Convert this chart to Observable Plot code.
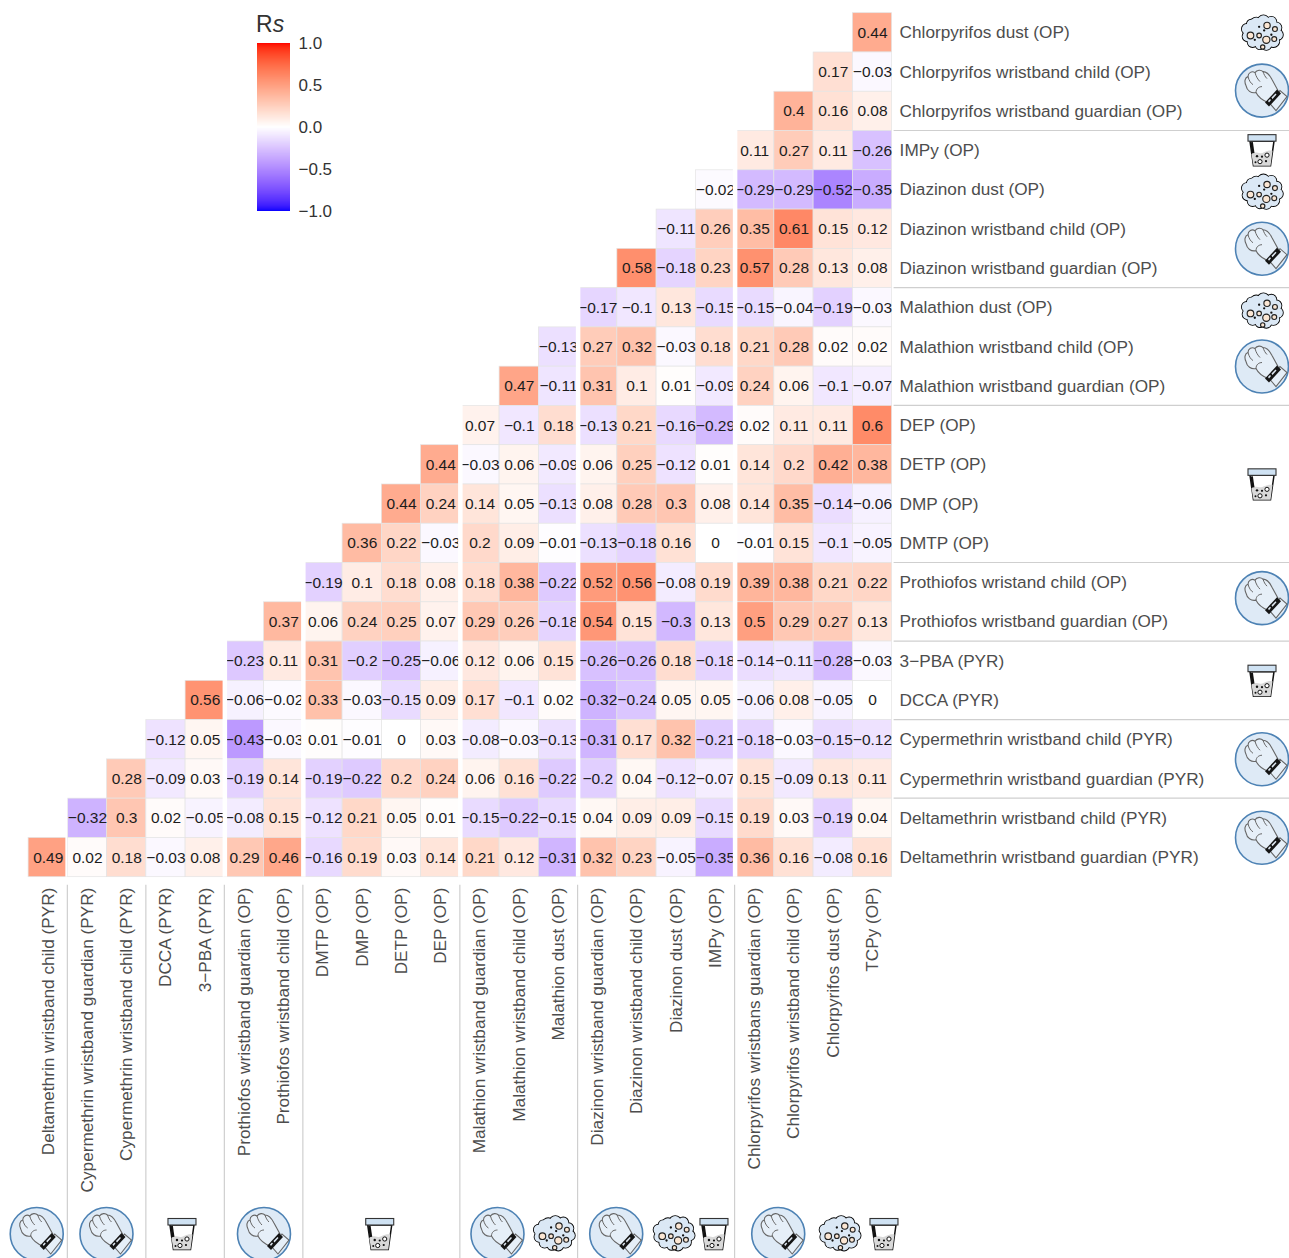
<!DOCTYPE html>
<html><head><meta charset="utf-8">
<script src="https://cdn.jsdelivr.net/npm/d3@7"></script>
<script src="https://cdn.jsdelivr.net/npm/@observablehq/plot@0.6"></script>
<style>
html,body{margin:0;padding:0;background:#fff;overflow:hidden}
#wrap{position:relative;width:1289px;height:1258px;font-family:"Liberation Sans",Arial,sans-serif}
#wrap svg{display:block;background:transparent}
#legend{position:absolute;left:257px;top:35px}
#rs{position:absolute;left:256px;top:10px;font-size:23px;color:#333;line-height:28px;font-family:"Liberation Sans",Arial,sans-serif}
#rs i{font-style:italic}
</style></head>
<body>
<div id="wrap"><div id="main"></div><div id="legend"></div><div id="rs">R<i>s</i></div></div>
<script>
const rowLabels = ["Chlorpyrifos dust (OP)","Chlorpyrifos wristband child (OP)","Chlorpyrifos wristband guardian (OP)","IMPy (OP)","Diazinon dust (OP)","Diazinon wristband child (OP)","Diazinon wristband guardian (OP)","Malathion dust (OP)","Malathion wristband child (OP)","Malathion wristband guardian (OP)","DEP (OP)","DETP (OP)","DMP (OP)","DMTP (OP)","Prothiofos wristand child (OP)","Prothiofos wristband guardian (OP)","3\u2212PBA (PYR)","DCCA (PYR)","Cypermethrin wristband child (PYR)","Cypermethrin wristband guardian (PYR)","Deltamethrin wristband child (PYR)","Deltamethrin wristband guardian (PYR)"];
const colLabels = ["Deltamethrin wristband child (PYR)","Cypermethrin wristband guardian (PYR)","Cypermethrin wristband child (PYR)","DCCA (PYR)","3\u2212PBA (PYR)","Prothiofos wristband guardian (OP)","Prothiofos wristband child (OP)","DMTP (OP)","DMP (OP)","DETP (OP)","DEP (OP)","Malathion wristband guardian (OP)","Malathion wristband child (OP)","Malathion dust (OP)","Diazinon wristband guardian (OP)","Diazinon wristband child (OP)","Diazinon dust (OP)","IMPy (OP)","Chlorpyrifos wristbans guardian (OP)","Chlorpyrifos wristband child (OP)","Chlorpyrifos dust (OP)","TCPy (OP)"];
// each row lists its cells left to right and ends at the last column
const rowValues = [
[0.44],
[0.17,-0.03],
[0.4,0.16,0.08],
[0.11,0.27,0.11,-0.26],
[-0.02,-0.29,-0.29,-0.52,-0.35],
[-0.11,0.26,0.35,0.61,0.15,0.12],
[0.58,-0.18,0.23,0.57,0.28,0.13,0.08],
[-0.17,-0.1,0.13,-0.15,-0.15,-0.04,-0.19,-0.03],
[-0.13,0.27,0.32,-0.03,0.18,0.21,0.28,0.02,0.02],
[0.47,-0.11,0.31,0.1,0.01,-0.09,0.24,0.06,-0.1,-0.07],
[0.07,-0.1,0.18,-0.13,0.21,-0.16,-0.29,0.02,0.11,0.11,0.6],
[0.44,-0.03,0.06,-0.09,0.06,0.25,-0.12,0.01,0.14,0.2,0.42,0.38],
[0.44,0.24,0.14,0.05,-0.13,0.08,0.28,0.3,0.08,0.14,0.35,-0.14,-0.06],
[0.36,0.22,-0.03,0.2,0.09,-0.01,-0.13,-0.18,0.16,0,-0.01,0.15,-0.1,-0.05],
[-0.19,0.1,0.18,0.08,0.18,0.38,-0.22,0.52,0.56,-0.08,0.19,0.39,0.38,0.21,0.22],
[0.37,0.06,0.24,0.25,0.07,0.29,0.26,-0.18,0.54,0.15,-0.3,0.13,0.5,0.29,0.27,0.13],
[-0.23,0.11,0.31,-0.2,-0.25,-0.06,0.12,0.06,0.15,-0.26,-0.26,0.18,-0.18,-0.14,-0.11,-0.28,-0.03],
[0.56,-0.06,-0.02,0.33,-0.03,-0.15,0.09,0.17,-0.1,0.02,-0.32,-0.24,0.05,0.05,-0.06,0.08,-0.05,0],
[-0.12,0.05,-0.43,-0.03,0.01,-0.01,0,0.03,-0.08,-0.03,-0.13,-0.31,0.17,0.32,-0.21,-0.18,-0.03,-0.15,-0.12],
[0.28,-0.09,0.03,-0.19,0.14,-0.19,-0.22,0.2,0.24,0.06,0.16,-0.22,-0.2,0.04,-0.12,-0.07,0.15,-0.09,0.13,0.11],
[-0.32,0.3,0.02,-0.05,-0.08,0.15,-0.12,0.21,0.05,0.01,-0.15,-0.22,-0.15,0.04,0.09,0.09,-0.15,0.19,0.03,-0.19,0.04],
[0.49,0.02,0.18,-0.03,0.08,0.29,0.46,-0.16,0.19,0.03,0.14,0.21,0.12,-0.31,0.32,0.23,-0.05,-0.35,0.36,0.16,-0.08,0.16]
];
const panelGapAfter = [4,6,10,13,17];
const thinGapAfter = [0];
const colRuleAfter = [0,2,4,6,10,13,17];
const rowRuleAfter = [2,6,9,13,15,17,19];
const iconsRight = [["0","dust",1],["1","wrist",19],["3","urine",0],["4","dust",3],["5","wrist",20],["7","dust",4],["8","wrist",20],["11","urine",20],["14","wrist",16],["16","urine",20],["18","wrist",20],["20","wrist",20]];
const iconsBottom = [["0","wrist",-11],["1","wrist",19.5],["3","urine",16.5],["5","wrist",20],["8","urine",18],["11","wrist",18],["13","dust",-4],["14","wrist",19],["16","dust",-2],["17","urine",-1],["18","wrist",24],["20","dust",7],["21","urine",12]];

const cells = rowValues.flatMap((vals, r) => vals.map((v, k) => ({
  row: rowLabels[r], col: colLabels[colLabels.length - vals.length + k], v
})));
const fmt = v => String(v).replace("-", "\u2212");

const dustBlobs = [[22,14,8],[32,11,8],[43,12,7],[50,20,7],[52,30,7],[46,39,8],[36,44,7],[27,44,6],[17,40,7],[10,32,7],[9,22,7],[15,15,6],[30,28,18],[38,28,12],[22,28,12]];
const dustSpots = [[37,17,4.4],[48,22,3.4],[14,31,4.6],[26,31,3.2],[36,37,5],[47,36,3.4],[31,47,3]];
const dustDots = [[43,30],[20,37],[33,24],[26,19]];
const ICONS = {
  wrist: `<circle cx="30" cy="30" r="26.5" fill="#deeaf6" stroke="#4d82b4" stroke-width="1.6"/>
   <path d="M14 25C12 21 13 17 16 16C16 12 20 10 23 12C25 9 29 9 31 11C35 11 38 15 40 19L46 30L36 42C31 40 26 36 24 32C19 33 15 30 14 25Z" fill="#e6eff8" stroke="#666" stroke-width="1.1"/>
   <path d="M16 16C17 20 19 23 21 24M23 12C24 16 26 19 28 21M31 11C32 14 33 16 35 18M24 32C24 28 27 26 30 26" fill="none" stroke="#666" stroke-width="1"/>
   <path d="M38 43L48 30L55 36L44 50Z" fill="#e6eff8" stroke="#666" stroke-width="1.1"/>
   <path d="M33 42L45 29L49 33L37 46Z" fill="#151515"/><path d="M39.5 37L43.5 33L44.5 34L40.5 38.5ZM36 40.5L38 38.5L39 39.5L37 42Z" fill="#dfe8f2"/>`,
  dust: `<g transform="translate(30,30) scale(.72) translate(-30,-28)">`
    + dustBlobs.map(([x,y,r]) => `<circle cx="${x}" cy="${y}" r="${r}" fill="#000" stroke="#000" stroke-width="2.4"/>`).join("")
    + dustBlobs.map(([x,y,r]) => `<circle cx="${x}" cy="${y}" r="${r}" fill="#dbe8f5"/>`).join("")
    + dustSpots.map(([x,y,r]) => `<circle cx="${x}" cy="${y}" r="${r}" fill="#fbe6d3" stroke="#222" stroke-width="1.6"/>`).join("")
    + dustDots.map(([x,y]) => `<circle cx="${x}" cy="${y}" r="1.6" fill="#111"/>`).join("") + `</g>`,
  urine: `<path d="M18 21H42L38.5 45.5H21.5Z" fill="#fff" stroke="#111" stroke-width="1.5"/>
   <path d="M19.5 34C24 30 27 35 32 32C35 30.5 38 30 40.5 30.5L38.5 45.5H21.5Z" fill="#d9d9d9"/>
   <path d="M19.6 22L21.2 33" stroke="#111" stroke-width="2.6"/>
   <rect x="16" y="14.5" width="28" height="6.5" fill="#cfe2f3" stroke="#333" stroke-width="1.1"/>
   <circle cx="35" cy="35" r="2.1" fill="#fff" stroke="#111" stroke-width="1"/><circle cx="28" cy="41.5" r="2.1" fill="#fff" stroke="#111" stroke-width="1"/><circle cx="25" cy="36" r="1.2" fill="#111"/><circle cx="30" cy="36.5" r="1.1" fill="#111"/><circle cx="34" cy="41" r="1.1" fill="#111"/><circle cx="23.5" cy="42" r="1" fill="#111"/>`
};

const frame = {left: 28.1, right: 891.6, top: 12.7, bottom: 876.7};
const W = 1289, H = 1258;
const stepX = (frame.right - frame.left) / colLabels.length;
const colorScale = {type: "linear", domain: [-1, 0, 1], range: ["#0000ff", "#ffffff", "#ff0000"], interpolate: d3.interpolateLab};

const chart = Plot.plot({
  width: W, height: H,
  marginLeft: frame.left, marginRight: W - frame.right, marginTop: frame.top, marginBottom: H - frame.bottom,
  style: {fontFamily: '"Liberation Sans",Arial,sans-serif', background: "transparent"},
  x: {type: "band", domain: colLabels, padding: 0, round: false, label: null},
  y: {type: "band", domain: rowLabels, padding: 0, round: false, label: null},
  color: colorScale,
  marks: [
    Plot.axisY({anchor: "right", tickSize: 0, tickPadding: 7.5, fontSize: 17.2, label: null, stroke: "none", fill: "#4d4d4d"}),
    Plot.axisX({anchor: "bottom", tickRotate: -90, tickSize: 0, tickPadding: 10.5, fontSize: 17.2, label: null, stroke: "none", fill: "#4d4d4d"}),
    Plot.cell(cells, {x: "col", y: "row", fill: "v", stroke: "#e4e4e4", strokeWidth: 0.7}),
    Plot.text(cells, {x: "col", y: "row", text: d => fmt(d.v), fontSize: 15.5, fill: "#1c1c1c"}),
    Plot.ruleX(panelGapAfter.map(i => colLabels[i]), {x: d => d, dx: stepX / 2, stroke: "#fff", strokeWidth: 4.5}),
    Plot.ruleX(thinGapAfter.map(i => colLabels[i]), {x: d => d, dx: stepX / 2 - 1.5, stroke: "#fff", strokeWidth: 2}),
    (index, {x, y}) => {
      const g = d3.create("svg:g");
      const bx = x.bandwidth(), by = y.bandwidth();
      const line = (x1, y1, x2, y2) => g.append("line").attr("x1", x1).attr("y1", y1).attr("x2", x2).attr("y2", y2)
        .attr("stroke", "#cfcfcf").attr("stroke-width", 1.2);
      for (const i of colRuleAfter) { const px = x(colLabels[i]) + bx; line(px, frame.bottom + 8, px, H); }
      for (const i of rowRuleAfter) { const py = y(rowLabels[i]) + by; line(frame.right + 2, py, W, py); }
      const put = (kind, cx, cy) => g.append("g").attr("transform", `translate(${cx - 30},${cy - 30})`).html(ICONS[kind]);
      for (const [r, kind, nudge] of iconsRight) put(kind, 1262, y(rowLabels[+r]) + by / 2 + nudge);
      for (const [c, kind, nudge] of iconsBottom) put(kind, x(colLabels[+c]) + bx / 2 + nudge, 1234);
      return g.node();
    }
  ]
});
document.getElementById("main").append(chart);

const rampSteps = d3.range(-100, 100).map(d => d / 100);
const legend = Plot.plot({
  width: 90, height: 186,
  marginLeft: 0, marginRight: 57, marginTop: 8, marginBottom: 10,
  style: {fontFamily: '"Liberation Sans",Arial,sans-serif', background: "transparent"},
  y: {domain: [-1, 1], label: null},
  color: colorScale,
  marks: [
    Plot.rect(rampSteps, {y1: d => d, y2: d => Math.min(1, d + 0.02), fill: d => d + 0.005, inset: 0}),
    Plot.axisY({anchor: "right", ticks: [-1, -0.5, 0, 0.5, 1], tickFormat: d3.format(".1f"), tickSize: 0, tickPadding: 8, fontSize: 17, label: null, fill: "#333", stroke: "none"})
  ]
});
document.getElementById("legend").append(legend);
</script>
</body></html>
